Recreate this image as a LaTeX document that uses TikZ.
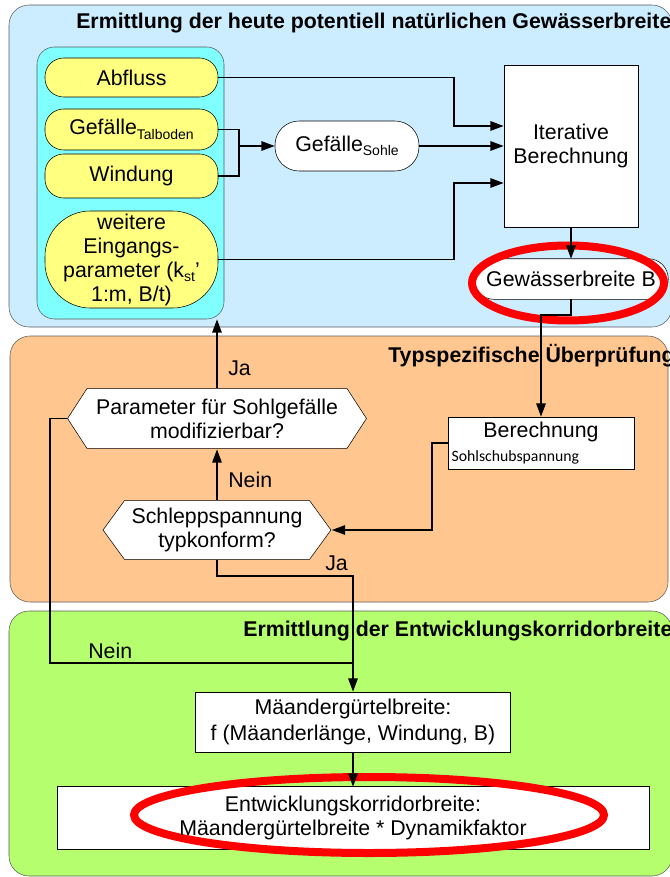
\documentclass[tikz,border=0pt]{standalone}
\usepackage{fontspec}
\setmainfont{Liberation Sans}
\newfontfamily\calibri{Carlito}
\usetikzlibrary{arrows.meta}

\pgfdeclarelayer{back}
\pgfdeclarelayer{ring}
\pgfsetlayers{back,ring,main}

\definecolor{panelblue}{RGB}{204,236,255}
\definecolor{panelorange}{RGB}{255,199,143}
\definecolor{panelgreen}{RGB}{181,255,110}
\definecolor{incyan}{RGB}{128,255,255}
\definecolor{inyellow}{RGB}{255,255,128}
\definecolor{framegray}{RGB}{90,90,90}
\definecolor{ringred}{RGB}{255,0,0}

\newcommand\lowtxt[1]{\raisebox{-3.5pt}{\fontsize{10.5}{12}\selectfont #1}}

\tikzset{every picture/.style={line width=0.75pt}}
\tikzset{
  pill/.style={draw, fill=inyellow, rounded corners=14pt, minimum width=129.75pt, inner sep=1pt, align=center},
  hexa/.style={align=center, inner sep=0pt, path picture={
      \draw [fill=white] ([xshift=0.4pt]path picture bounding box.west)
        -- ([xshift=#1,yshift=-0.4pt]path picture bounding box.north west)
        -- ([xshift=-#1,yshift=-0.4pt]path picture bounding box.north east)
        -- ([xshift=-0.4pt]path picture bounding box.east)
        -- ([xshift=-#1,yshift=0.4pt]path picture bounding box.south east)
        -- ([xshift=#1,yshift=0.4pt]path picture bounding box.south west) -- cycle ;}},
  hexa/.default=15pt,
  panel/.style={draw=framegray, rounded corners=15pt},
  link/.style={line width=1.4pt},
  arr/.style={-{Triangle[length=10pt,width=7pt]}},
  lbl/.style={anchor=west, inner sep=0pt},
  ttl/.style={anchor=west, inner sep=0pt, font=\bfseries\fontsize{16}{18}\selectfont}
}

\begin{document}
\begin{tikzpicture}[x=0.75pt,y=0.75pt,yscale=-1,xscale=1, every node/.style={font=\fontsize{16}{18}\selectfont}]
\useasboundingbox (0,0) rectangle (669,877);
\clip (0,0) rectangle (669,877);

%Shape: Panels
\begin{pgfonlayer}{back}
\draw [panel, fill=panelblue] (9,5) rectangle (672,327) ;
\draw [panel, fill=panelorange] (10,336) rectangle (668,602) ;
\draw [panel, fill=panelgreen] (9,611) rectangle (672,876) ;
\end{pgfonlayer}

% Text Node
\node [ttl] (ttlA) at (76,23) {Ermittlung der heute potentiell natürlichen Gewässerbreite};
% Text Node
\node [ttl] (ttlB) at (388,356) {Typspezifische Überprüfung};
% Text Node
\node [ttl] (ttlC) at (243,631) {Ermittlung der Entwicklungskorridorbreite};

%Shape: Input group
\node [draw=framegray, fill=incyan, rounded corners=13pt, minimum width=140.25pt, minimum height=204pt] (inputs) at (130.5,183) {};
\node [pill, minimum height=29.25pt] (abfluss) at (131.5,77.5) {Abfluss};
\node [pill, minimum height=30.75pt] (talboden) at (131.5,129.5) {Gefälle\lowtxt{Talboden}};
\node [pill, minimum height=33pt] (windung) at (131.5,176) {Windung};
\node [pill, minimum height=72.75pt, rounded corners=34pt] (weitere) at (131.5,259.5) {weitere\\Eingangs-\\parameter (k\lowtxt{st}’\\1:m, B/t)};

%Shape: Calculation
\node [draw, fill=white, rounded corners=18pt, minimum width=108pt, minimum height=37.5pt] (sohle) at (347,146) {Gefälle\lowtxt{Sohle}};
\node [draw, fill=white, minimum width=100.5pt, minimum height=121.5pt, align=center] (iter) at (571,146) {Iterative\\Berechnung};
\node [minimum width=145.5pt, minimum height=30pt] (gew) at (571,279) {Gewässerbreite B};

%Shape: Check
\node [hexa, minimum width=225pt, minimum height=45.75pt] (param) at (217,418.5) {Parameter für Sohlgefälle\\modifizierbar?};
\node [hexa=16.5pt, minimum width=171.75pt, minimum height=45pt] (schlepp) at (217,530) {Schleppspannung\\typkonform?};
\node [draw, fill=white, minimum width=139.5pt, minimum height=39pt, text width=134pt, inner sep=2.25pt, align=left] (berech) at (541,443) {\makebox[\linewidth]{Berechnung}\\{\calibri\fontsize{11.8}{13}\selectfont Sohlschubspannung}};

%Shape: Corridor
\node [draw, fill=white, minimum width=236.25pt, minimum height=45pt, align=center, font=\fontsize{16}{20}\selectfont] (maeander) at (353,722) {Mäandergürtelbreite:\\f (Mäanderlänge, Windung, B)};
\node [minimum width=443.25pt, minimum height=46.5pt, align=center] (entw) at (353,818) {Entwicklungskorridorbreite:\\Mäandergürtelbreite * Dynamikfaktor};

\begin{pgfonlayer}{back}
\draw [fill=white, rounded corners=15pt] (gew.north west) rectangle (gew.south east) ;
\draw [fill=white] (entw.north west) rectangle (entw.south east) ;
\end{pgfonlayer}

%Shape: Red marks
\begin{pgfonlayer}{ring}
\draw [ringred, line width=6pt] ([shift={(-3,4)}]gew.center) ellipse [x radius=96, y radius=37.5] ;
\draw [ringred, line width=6pt] ([shift={(16,-3)}]entw.center) ellipse [x radius=235, y radius=38] ;
\end{pgfonlayer}

% Connectors
\coordinate (jA) at (454,126);
\coordinate (jB) at (239,146);
\coordinate (jC) at (454,183);
\coordinate (jD) at (541,315);
\coordinate (jE) at (432,530);
\coordinate (jF) at (353,576);
\coordinate (jG) at (50,663);

\draw [link, arr] (abfluss.east) -| (jA) -- (iter.west |- jA) ;
\draw [link] (talboden.east) -| (jB) |- (windung.east) ;
\draw [link, arr] (jB) -- (sohle.west) ;
\draw [link, arr] (sohle.east) -- (iter.west |- sohle.east) ;
\draw [link, arr] (weitere.east) -| (jC) -- (iter.west |- jC) ;
\draw [link, arr] (iter.south) -- (iter.south |- gew.north) ;
\draw [link, arr] (gew.south) |- (jD) -- (berech.north) ;
\draw [link, arr] (berech.west) -| (jE) -- (schlepp.east) ;
\draw [link, arr] (schlepp.north) -- (param.south) ;
\draw [link, arr] (param.north) -- (param.north |- inputs.south) ;
\draw [link, arr] (schlepp.south) |- (jF) -- (maeander.north) ;
\draw [link] (param.west) -| (jG) -- (jG -| maeander.north) ;
\draw [link, arr] (maeander.south) -- (entw.north) ;

% Text Node
\node [lbl] (jaUp) at (228,368) {Ja};
% Text Node
\node [lbl] (neinUp) at (228,480) {Nein};
% Text Node
\node [lbl] (jaDown) at (325,563) {Ja};
% Text Node
\node [lbl] (neinLeft) at (88,651) {Nein};

\end{tikzpicture}
\end{document}
